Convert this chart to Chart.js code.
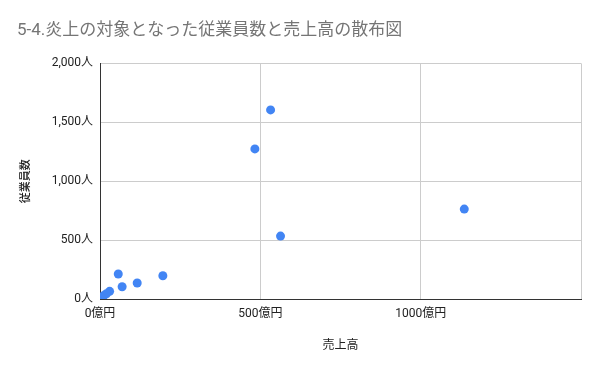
<!DOCTYPE html>
<html>
<head>
<meta charset="utf-8">
<script src="https://cdn.jsdelivr.net/npm/chart.js@4"></script>
<style>
  html, body { margin: 0; padding: 0; background: #fff; }
  #wrap { width: 600px; height: 371px; }
</style>
</head>
<body>
<div id="wrap"><canvas id="myChart"></canvas></div>
<script>
// ---- data (売上高 億円, 従業員数 人) ----
const sales = [532, 483, 563, 1136, 57, 196, 116, 69, 30, 20, 12, 5, 3];
const employees = [1605, 1274, 534, 763, 212, 197, 136, 104, 65, 45, 30, 15, 8];

const points = sales.map(function (s, i) { return { x: s, y: employees[i] }; });

const font = "Roboto, 'Noto Sans CJK JP', sans-serif";

const ctx = document.getElementById('myChart');

new Chart(ctx, {
  type: 'scatter',
  data: {
    datasets: [{
      label: '従業員数',
      data: points,
      backgroundColor: '#4285f4',
      borderColor: '#4285f4',
      pointRadius: 4.5,
      pointHoverRadius: 4.5,
      borderWidth: 0
    }]
  },
  options: {
    responsive: true,
    maintainAspectRatio: false,
    animation: false,
    layout: { padding: { left: 17, right: 19, top: 0, bottom: 0 } },
    plugins: {
      legend: { display: false },
      tooltip: { enabled: false },
      title: {
        display: true,
        text: '5-4.炎上の対象となった従業員数と売上高の散布図',
        align: 'start',
        color: '#757575',
        font: { family: font, size: 17, weight: 'normal' },
        padding: { top: 21, bottom: 22 }
      }
    },
    scales: {
      x: {
        type: 'linear',
        min: 0,
        max: 1500,
        afterFit: function (s) { s.height = 72; },
        ticks: {
          stepSize: 500,
          padding: 8,
          maxRotation: 0,
          color: '#222',
          font: { family: font, size: 12 },
          callback: function (v) { return v === 1500 ? '' : v + '億円'; }
        },
        grid: { color: '#cccccc', drawTicks: false },
        border: { color: '#333333', width: 1 },
        title: {
          display: true,
          text: '売上高',
          color: '#222',
          font: { family: font, size: 12 },
          padding: { top: 0, bottom: 18 }
        }
      },
      y: {
        min: 0,
        max: 2000,
        afterFit: function (s) { s.width = 83; },
        ticks: {
          stepSize: 500,
          padding: 7,
          color: '#222',
          font: { family: font, size: 12 },
          callback: function (v) { return v.toLocaleString('en-US') + '人'; }
        },
        grid: { color: '#cccccc', drawTicks: false },
        border: { color: '#333333', width: 1 },
        title: {
          display: true,
          text: '従業員数',
          color: '#222',
          font: { family: font, size: 11, weight: '500' },
          padding: { top: 3, bottom: 0 }
        }
      }
    }
  }
});
</script>
</body>
</html>
